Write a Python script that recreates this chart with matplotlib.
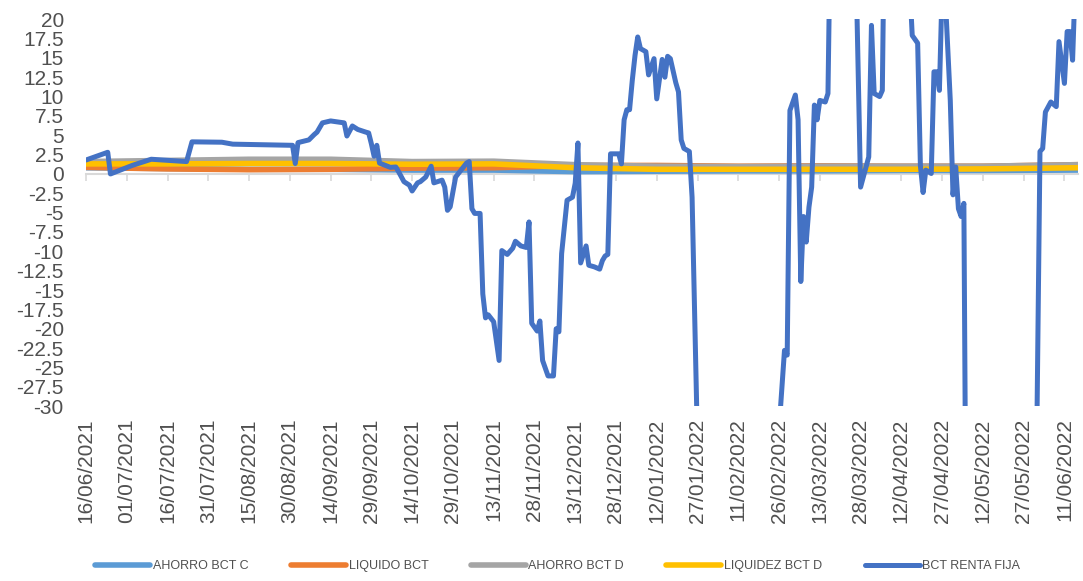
import numpy as np
import pandas as pd
import matplotlib
matplotlib.use("Agg")
import matplotlib.pyplot as plt
import matplotlib.dates as mdates
from matplotlib.ticker import MultipleLocator, FuncFormatter

plt.rcParams['font.family'] = ['Liberation Sans', 'DejaVu Sans']

# Data
start_date = "2021-06-16"

# Smooth funds: values at roughly monthly points (days since start)
fund_days = [0, 30, 60, 90, 120, 150, 180, 210, 240, 270, 300, 330, 365]
ahorro_bct_c = [0.8, 0.7, 0.6, 0.6, 0.5, 0.5, 0.3, 0.35, 0.4, 0.4, 0.45, 0.45, 0.5]
liquido_bct = [0.85, 0.65, 0.55, 0.6, 0.75, 0.8, 1.1, 1.1, 1.0, 1.05, 1.0, 1.0, 1.2]
ahorro_bct_d = [1.6, 1.75, 1.9, 1.9, 1.6, 1.65, 1.2, 1.0, 0.95, 1.0, 1.0, 1.0, 1.2]
liquidez_bct_d = [1.3, 1.3, 1.35, 1.35, 1.25, 1.3, 0.8, 0.6, 0.6, 0.6, 0.6, 0.65, 0.8]

# BCT RENTA FIJA: turning points (days since start, value)
renta_fija_days = [
    0, 8, 9, 17, 24, 37, 39, 50, 54, 76, 77, 78, 82, 84, 85, 87, 90, 95, 96, 98,
    100, 103, 104, 105, 106, 107, 108, 112, 114, 115, 117, 119, 120, 122, 123, 125,
    127, 128, 131, 132, 133, 134, 136, 138, 140, 141, 142, 143, 145, 146, 147, 148,
    150, 152, 153, 155, 157, 158, 160, 162, 163, 164, 166, 167, 168, 170, 172, 173,
    174, 175, 177, 179, 180, 181, 182, 184, 185, 187, 189, 190, 191, 192, 193, 196,
    197, 198, 199, 200, 201, 202, 203, 204, 206, 207, 209, 210, 212, 213, 214, 215,
    217, 218, 219, 220, 222, 223, 225, 254, 257, 258, 259, 261, 262, 263, 264, 265,
    266, 267, 268, 269, 270, 272, 273, 274, 283, 285, 288, 289, 290, 292, 293, 294,
    303, 304, 306, 307, 308, 309, 311, 312, 313, 314, 315, 316, 318, 319, 320, 321,
    322, 323, 324, 349, 351, 352, 353, 355, 357, 358, 360, 361, 362, 363, 364, 365,
]
renta_fija = [
    1.8, 2.8, 0.0, 1.1, 1.9, 1.6, 4.15, 4.1, 3.85, 3.7, 1.35, 4.05, 4.4, 5.1, 5.4, 6.6, 6.85, 6.6, 4.9, 6.2,
    5.75, 5.4, 5.3, 3.9, 2.3, 3.7, 1.4, 0.85, 0.9, 0.3, -1.0, -1.45, -2.2, -1.15, -1.0, -0.4,
    1.0, -1.15, -0.8, -1.7, -4.7, -4.25, -0.4, 0.5, 1.4, 1.6, -4.5, -5.1, -5.1, -15.5, -18.6, -18.2,
    -19.1, -24.1, -9.9, -10.4, -9.6, -8.7, -9.3, -9.5, -6.2, -19.3, -20.3, -19.0, -24.1, -26.1, -26.1, -20.0,
    -20.4, -10.3, -3.4, -3.0, -1.2, 4.0, -11.5, -9.3, -11.8, -12.0, -12.3, -11.2, -10.6, -10.4, 2.6, 2.6,
    1.3, 7.0, 8.3, 8.3, 12.1, 15.3, 17.7, 16.2, 15.8, 12.8, 14.9, 9.7, 14.8, 12.5, 15.2, 14.9,
    11.8, 10.6, 4.4, 3.3, 2.9, -3.0, -35.0, -38.0, -22.8, -23.4, 8.2, 10.2, 7.0, -13.9, -5.5, -8.8,
    -4.3, -1.7, 8.9, 7.0, 9.5, 9.3, 10.4, 35.0, 32.0, -1.7, 2.2, 19.2, 10.4, 10.0, 10.8, 40.0,
    25.0, 17.9, 16.9, 1.1, -2.4, 0.5, 0.06, 13.2, 13.2, 10.8, 24.0, 24.0, 9.5, -2.7, 0.9, -4.5,
    -5.5, -3.8, -60.0, -60.0, 2.9, 3.3, 8.0, 9.3, 8.7, 17.1, 11.7, 18.4, 18.4, 14.7, 25.0, 28.0,
]

series_names = ["AHORRO BCT C", "LIQUIDO BCT", "AHORRO BCT D", "LIQUIDEZ BCT D", "BCT RENTA FIJA"]
series_colors = ["#5B9BD5", "#ED7D31", "#A5A5A5", "#FFC000", "#4472C4"]

start = pd.Timestamp(start_date)
fund_dates = start + pd.to_timedelta(fund_days, unit="D")
rf_dates = start + pd.to_timedelta(renta_fija_days, unit="D")
tick_dates = pd.date_range(start, periods=25, freq="15D")

text_color = "#505050"
axis_gray = "#D9D9D9"

fig = plt.figure(figsize=(10.83, 5.81), dpi=100)
ax = fig.add_axes([0.0794, 0.301, 0.916, 0.666])

series = [ahorro_bct_c, liquido_bct, ahorro_bct_d, liquidez_bct_d]
for name, vals, col in zip(series_names[:4], series, series_colors[:4]):
    ax.plot(fund_dates, vals, color=col, lw=4.0, label=name,
            solid_joinstyle="round", solid_capstyle="round")
ax.plot(rf_dates, renta_fija, color=series_colors[4], lw=3.6, label=series_names[4],
        solid_joinstyle="round", solid_capstyle="round")

ax.set_xlim(start, start + pd.Timedelta(days=365))
ax.set_ylim(-30, 20)

ax.yaxis.set_major_locator(MultipleLocator(2.5))
ax.yaxis.set_major_formatter(FuncFormatter(lambda v, p: f"{v:g}"))
ax.tick_params(axis="y", length=0, pad=16, labelsize=15, labelcolor=text_color)

ax.set_xticks(tick_dates)
ax.xaxis.set_major_formatter(mdates.DateFormatter("%d/%m/%Y"))
ax.tick_params(axis="x", length=0, pad=9, labelsize=15, labelcolor=text_color,
               labelrotation=90)

for s in ax.spines.values():
    s.set_visible(False)

# horizontal axis line drawn at y = 0 with tick marks
zero_axis = ax.secondary_xaxis(0.6)
zero_axis.set_alignment("bottom")
zero_axis.set_xticks(mdates.date2num(tick_dates))
zero_axis.tick_params(axis="x", direction="out", length=5, width=1.2, color=axis_gray,
                      labelbottom=False, labeltop=False)
for s in zero_axis.spines.values():
    s.set_color(axis_gray)
    s.set_linewidth(1.5)

handles, labels = ax.get_legend_handles_labels()
leg = fig.legend(handles, labels, loc="center", bbox_to_anchor=(0.515, 0.026), ncol=5,
                 frameon=False, fontsize=9, handlelength=4.4, handletextpad=0.2,
                 columnspacing=3.4)
for t in leg.get_texts():
    t.set_color(text_color)

fig.savefig("out.png", dpi=100)
